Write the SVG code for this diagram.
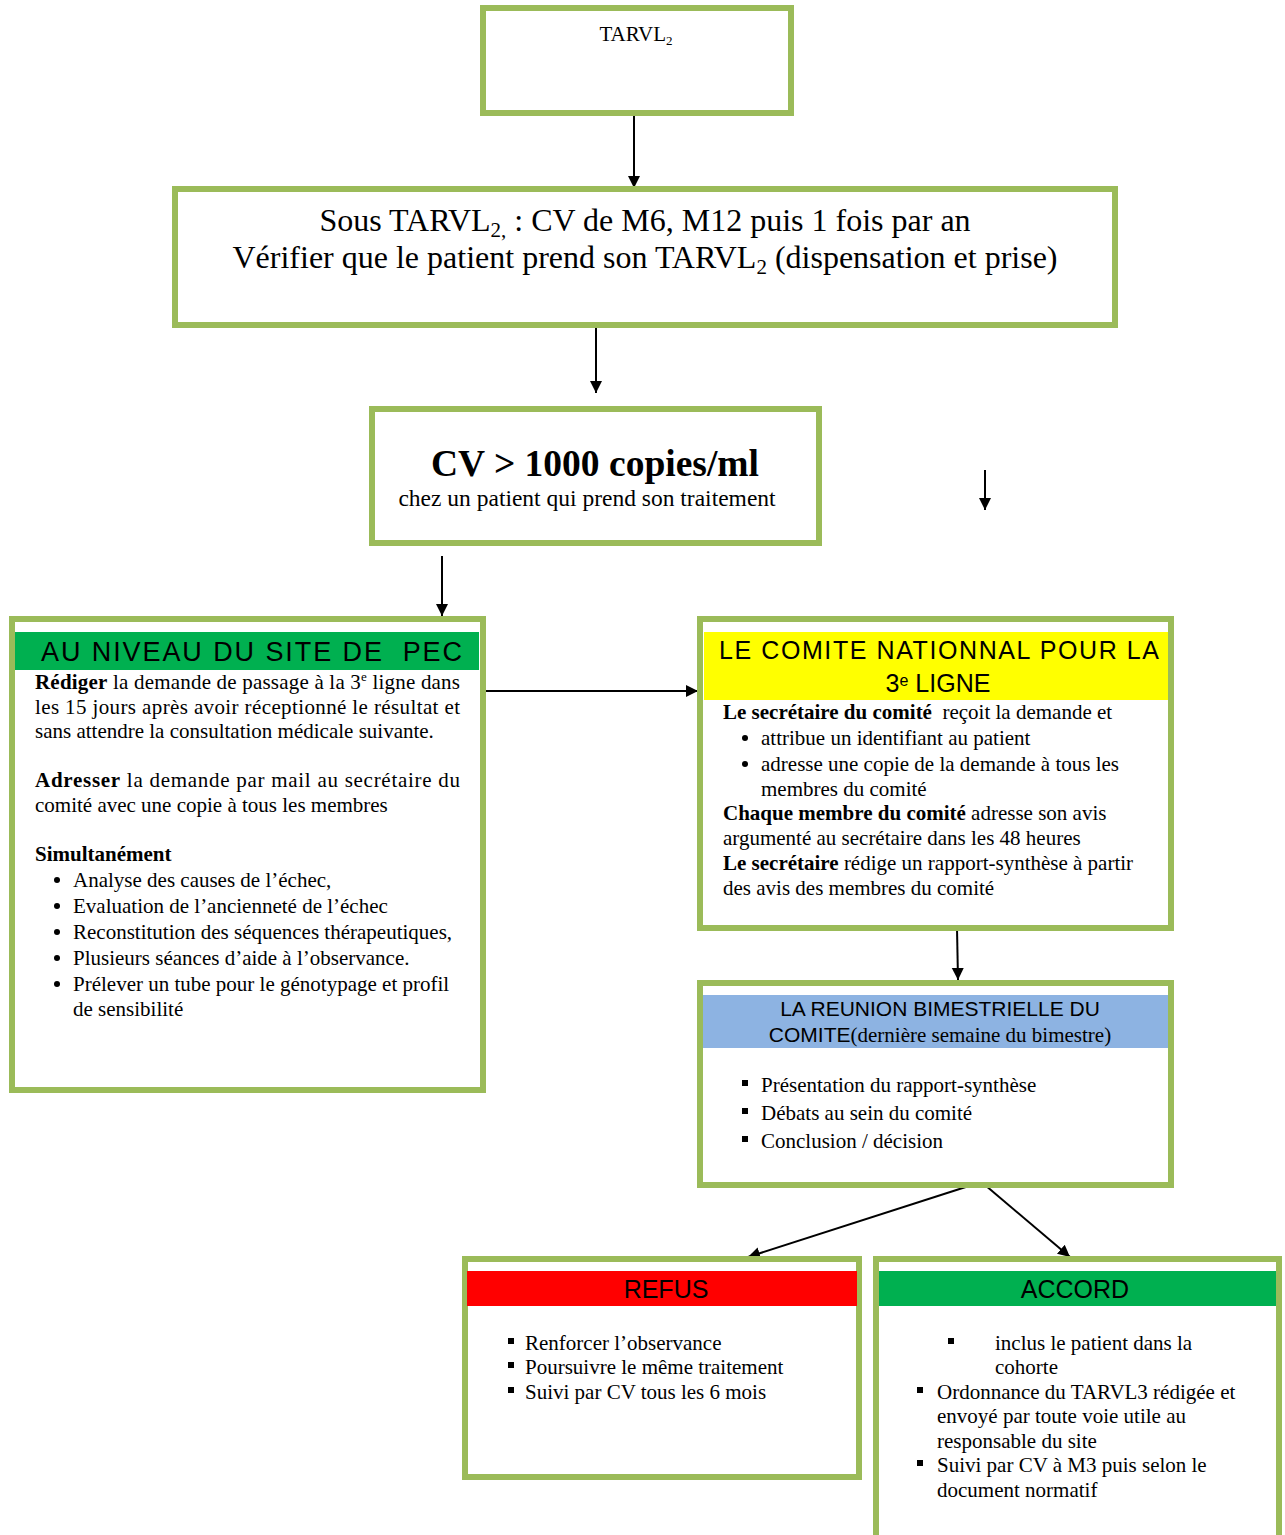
<svg xmlns="http://www.w3.org/2000/svg" width="1285" height="1535" viewBox="0 0 1285 1535">
<style>
.box{fill:#fff;stroke:#9BBB59;stroke-width:6}
.t{font-family:"Liberation Serif","Times New Roman",serif;fill:#000}
.s{font-family:"Liberation Sans",Arial,sans-serif;fill:#000}
.b{font-weight:bold}
.c{stroke:#000;stroke-width:2;fill:none;marker-end:url(#ah)}
</style>
<defs>
<marker id="ah" markerWidth="12" markerHeight="14" refX="10" refY="5" orient="auto" markerUnits="userSpaceOnUse" viewBox="0 0 10 10">
<path d="M0,0 L10,5 L0,10 z" fill="#000"/>
</marker>
</defs>
<rect width="1285" height="1535" fill="#fff"/>

<g id="connectors">
<line class="c" x1="634" y1="116" x2="634" y2="188"/>
<line class="c" x1="596" y1="328" x2="596" y2="393"/>
<line class="c" x1="985" y1="470" x2="985" y2="510"/>
<line class="c" x1="442" y1="556" x2="442" y2="616"/>
<line class="c" x1="486" y1="691" x2="698" y2="691"/>
<line class="c" x1="957" y1="928" x2="958" y2="980"/>
<line class="c" x1="972" y1="1185" x2="748" y2="1257"/>
<line class="c" x1="985" y1="1185" x2="1070" y2="1257"/>
</g>

<g id="n-tarvl2">
<rect class="box" x="483" y="8" width="308" height="105"/>
<text class="t" x="636" y="41" font-size="21" text-anchor="middle">TARVL<tspan font-size="13" dy="4">2</tspan></text>
</g>

<g id="n-sous">
<rect class="box" x="175" y="189" width="940" height="136"/>
<text class="t" x="645" y="231" font-size="32" text-anchor="middle">Sous TARVL<tspan font-size="21" dy="6">2,</tspan><tspan dy="-6"> : CV de M6, M12 puis 1 fois par an</tspan></text>
<text class="t" x="645" y="268" font-size="32" text-anchor="middle">Vérifier que le patient prend son TARVL<tspan font-size="21" dy="6">2</tspan><tspan dy="-6"> (dispensation et prise)</tspan></text>
</g>

<g id="n-cv">
<rect class="box" x="372" y="409" width="447" height="134"/>
<text class="t b" x="595" y="476" font-size="37.5" text-anchor="middle">CV &gt; 1000 copies/ml</text>
<text class="t" x="587" y="506" font-size="23.5" text-anchor="middle">chez un patient qui prend son traitement</text>
</g>

<g id="n-site">
<rect class="box" x="12" y="619" width="471" height="471"/>
<rect x="15" y="632" width="464" height="38" fill="#00B050"/>
<text class="s" x="41" y="661" font-size="27" textLength="421" lengthAdjust="spacing">AU NIVEAU DU SITE DE &#160;PEC</text>
<g class="t" font-size="21">
<text x="35" y="689" textLength="425" lengthAdjust="spacing"><tspan class="b">Rédiger</tspan> la demande de passage à la 3<tspan font-size="13" dy="-8">e</tspan><tspan dy="8"> ligne dans</tspan></text>
<text x="35" y="714" textLength="425" lengthAdjust="spacing">les 15 jours après avoir réceptionné le résultat et</text>
<text x="35" y="738">sans attendre la consultation médicale suivante.</text>
<text x="35" y="787" textLength="425" lengthAdjust="spacing"><tspan class="b">Adresser</tspan> la demande par mail au secrétaire du</text>
<text x="35" y="812">comité avec une copie à tous les membres</text>
<text x="35" y="861" class="b">Simultanément</text>
<circle cx="57" cy="880" r="3"/><text x="73" y="887">Analyse des causes de l’échec,</text>
<circle cx="57" cy="906" r="3"/><text x="73" y="913">Evaluation de l’ancienneté de l’échec</text>
<circle cx="57" cy="932" r="3"/><text x="73" y="939">Reconstitution des séquences thérapeutiques,</text>
<circle cx="57" cy="958" r="3"/><text x="73" y="965">Plusieurs séances d’aide à l’observance.</text>
<circle cx="57" cy="984" r="3"/><text x="73" y="991">Prélever un tube pour le génotypage et profil</text>
<text x="73" y="1016">de sensibilité</text>
</g>
</g>

<g id="n-comite">
<rect class="box" x="700" y="619" width="471" height="309"/>
<rect x="704" y="632" width="464" height="68" fill="#FFFF00"/>
<text class="s" x="939" y="659" font-size="25" text-anchor="middle" textLength="440" lengthAdjust="spacing">LE COMITE NATIONNAL POUR LA</text>
<text class="s" x="938" y="692" font-size="25" text-anchor="middle">3<tspan font-size="16" dy="-6">e</tspan><tspan dy="6"> LIGNE</tspan></text>
<g class="t" font-size="21">
<text x="723" y="719"><tspan class="b">Le secrétaire du comité</tspan>&#160; reçoit la demande et</text>
<circle cx="745" cy="738" r="3"/><text x="761" y="745">attribue un identifiant au patient</text>
<circle cx="745" cy="764" r="3"/><text x="761" y="771">adresse une copie de la demande à tous les</text>
<text x="761" y="796">membres du comité</text>
<text x="723" y="820"><tspan class="b">Chaque membre du comité</tspan> adresse son avis</text>
<text x="723" y="845">argumenté au secrétaire dans les 48 heures</text>
<text x="723" y="870"><tspan class="b">Le secrétaire</tspan> rédige un rapport-synthèse à partir</text>
<text x="723" y="895">des avis des membres du comité</text>
</g>
</g>

<g id="n-reunion">
<rect class="box" x="700" y="983" width="471" height="202"/>
<rect x="703" y="995" width="465" height="53" fill="#8DB3E2"/>
<text class="s" x="940" y="1016" font-size="21" text-anchor="middle" fill="#1F1F1F">LA REUNION BIMESTRIELLE DU</text>
<text x="940" y="1042" text-anchor="middle" font-size="21"><tspan class="s">COMITE</tspan><tspan class="t">(dernière semaine du bimestre)</tspan></text>
<g class="t" font-size="21">
<rect x="742" y="1080" width="6" height="6" fill="#000"/><text x="761" y="1092">Présentation du rapport-synthèse</text>
<rect x="742" y="1108" width="6" height="6" fill="#000"/><text x="761" y="1120">Débats au sein du comité</text>
<rect x="742" y="1136" width="6" height="6" fill="#000"/><text x="761" y="1148">Conclusion / décision</text>
</g>
</g>

<g id="n-refus">
<rect class="box" x="465" y="1259" width="394" height="218"/>
<rect x="467" y="1271" width="390" height="35" fill="#FF0000"/>
<text class="s" x="666" y="1298" font-size="25" text-anchor="middle">REFUS</text>
<g class="t" font-size="21">
<rect x="508" y="1338" width="6" height="6" fill="#000"/><text x="525" y="1350">Renforcer l’observance</text>
<rect x="508" y="1362" width="6" height="6" fill="#000"/><text x="525" y="1374">Poursuivre le même traitement</text>
<rect x="508" y="1387" width="6" height="6" fill="#000"/><text x="525" y="1399">Suivi par CV tous les 6 mois</text>
</g>
</g>

<g id="n-accord">
<rect class="box" x="876" y="1259" width="403" height="290"/>
<rect x="879" y="1271" width="397" height="35" fill="#00B050"/>
<text class="s" x="1075" y="1298" font-size="25" text-anchor="middle">ACCORD</text>
<g class="t" font-size="21">
<rect x="948" y="1338" width="6" height="6" fill="#000"/><text x="995" y="1350">inclus le patient dans la</text>
<text x="995" y="1374">cohorte</text>
<rect x="917" y="1387" width="6" height="6" fill="#000"/><text x="937" y="1399">Ordonnance du TARVL3 rédigée et</text>
<text x="937" y="1423">envoyé par toute voie utile au</text>
<text x="937" y="1448">responsable du site</text>
<rect x="917" y="1460" width="6" height="6" fill="#000"/><text x="937" y="1472">Suivi par CV à M3 puis selon le</text>
<text x="937" y="1497">document normatif</text>
</g>
</g>
</svg>
